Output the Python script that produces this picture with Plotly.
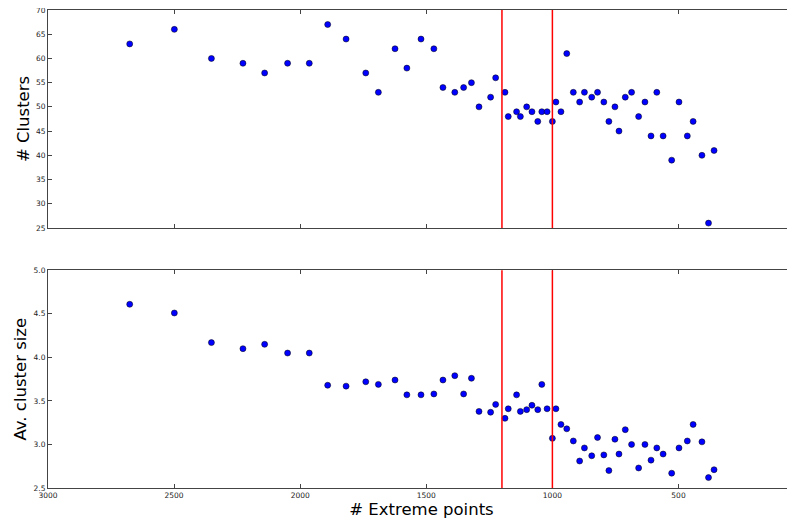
import plotly.graph_objects as go
from plotly.subplots import make_subplots

extreme_points = [2676, 2499, 2352, 2227, 2141, 2050, 1964, 1891, 1818, 1740, 1690, 1624, 1577, 1521, 1470,
                  1434, 1387, 1352, 1321, 1291, 1245, 1225, 1188, 1175, 1142, 1127, 1102, 1081, 1058, 1042, 1021,
                  1000,
                  986, 966, 943, 917, 892, 873, 844, 821, 796, 776, 752, 736, 711, 686, 658, 633, 609, 586, 561,
                  527, 498, 465, 442, 407, 381, 359]
n_clusters = [63, 66, 60, 59, 57, 59, 59, 67, 64, 57, 53, 62, 58, 64, 62,
              54, 53, 54, 55, 50, 52, 56, 53, 48, 49, 48, 50, 49, 47, 49, 49,
              47,
              51, 49, 61, 53, 51, 53, 52, 53, 51, 47, 50, 45, 52, 53, 48, 51, 44, 53, 44,
              39, 51, 44, 47, 40, 26, 41]
avg_cluster_size = [4.61, 4.51, 4.17, 4.10, 4.15, 4.05, 4.05, 3.68, 3.67, 3.72, 3.69, 3.74, 3.57, 3.57, 3.58,
                    3.74, 3.79, 3.58, 3.76, 3.38, 3.37, 3.46, 3.30, 3.41, 3.57, 3.38, 3.40, 3.45, 3.40, 3.69, 3.41,
                    3.07,
                    3.41, 3.23, 3.18, 3.04, 2.81, 2.96, 2.87, 3.08, 2.88, 2.70, 3.06, 2.89, 3.17, 3.00, 2.73, 3.00,
                    2.82, 2.96, 2.89, 2.67, 2.96, 3.04, 3.23, 3.03, 2.62, 2.71]
threshold_x = [1200, 1000]
x_ticks = [3000, 2500, 2000, 1500, 1000, 500]

FONT = "DejaVu Sans"
AX = "#444444"

fig = make_subplots(rows=2, cols=1, shared_xaxes=False)
marker = dict(color="#0000ff", size=6, line=dict(color="black", width=0.5))
fig.add_trace(go.Scatter(x=extreme_points, y=n_clusters, mode="markers", marker=marker,
                         showlegend=False), row=1, col=1)
fig.add_trace(go.Scatter(x=extreme_points, y=avg_cluster_size, mode="markers", marker=marker,
                         showlegend=False), row=2, col=1)

for r in (1, 2):
    for xv in threshold_x:
        fig.add_vline(x=xv, line=dict(color="#ff0000", width=1.5), layer="above", row=r, col=1)

xcommon = dict(range=[3000, 38], tickvals=x_ticks, ticks="inside", ticklen=4, tickcolor=AX,
               showline=True, linecolor=AX, linewidth=1, mirror="allticks", showgrid=False,
               zeroline=False, automargin=False, ticklabeloverflow="allow",
               tickfont=dict(family=FONT, size=7.5, color="#222"))
fig.update_xaxes(**xcommon)
fig.update_xaxes(showticklabels=False, row=1, col=1)
fig.update_xaxes(title=dict(text="# Extreme points", font=dict(family=FONT, size=16.5, color="black"),
                            standoff=4), row=2, col=1)

ycommon = dict(ticks="inside", ticklen=4, tickcolor=AX, showline=True, linecolor=AX, linewidth=1,
               mirror=False, showgrid=False, zeroline=False, automargin=False, ticklabeloverflow="allow",
               tickfont=dict(family=FONT, size=7.5, color="#222"))
fig.update_yaxes(**ycommon)
fig.update_yaxes(range=[25, 70], dtick=5, domain=[0.544, 1.0],
                 title=dict(text="# Clusters", font=dict(family=FONT, size=16.5, color="black"), standoff=2),
                 row=1, col=1)
fig.update_yaxes(range=[2.5, 5.0], dtick=0.5, tickformat=".1f", domain=[0.0, 0.4554],
                 title=dict(text="Av. cluster size", font=dict(family=FONT, size=16.5, color="black"),
                            standoff=2),
                 row=2, col=1)

# the page body adds an 8px margin, so the figure is sized to fill the rest of the window
fig.update_layout(width=787, height=512, margin=dict(l=40, r=0, t=2, b=32),
                  paper_bgcolor="white", plot_bgcolor="white",
                  font=dict(family=FONT))
fig.write_html("out.html")
